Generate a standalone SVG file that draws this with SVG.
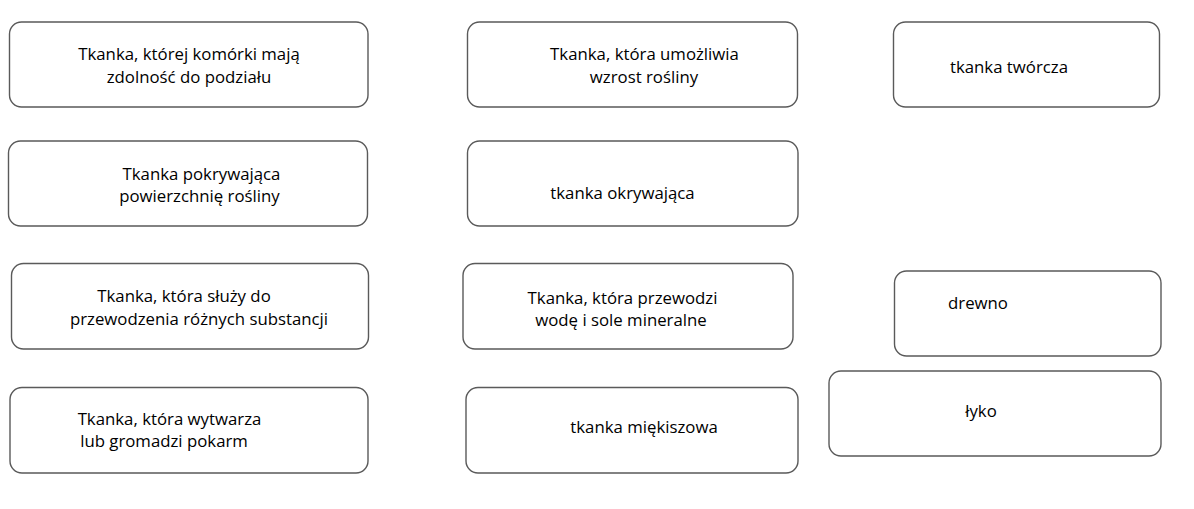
<svg xmlns="http://www.w3.org/2000/svg" width="1194" height="509" viewBox="0 0 1194 509">
  <style>
    .box { fill: #ffffff; stroke: #5a5a5a; stroke-width: 1.4; }
    .lbl { font-family: "Open Sans", "Liberation Sans", sans-serif; font-size: 16.8px; fill: #000000; text-anchor: middle; }
  </style>
  <rect width="1194" height="509" fill="#ffffff"/>

  <!-- column 1: descriptions -->
  <g id="desc-dzielenie">
    <rect class="box" x="9.5" y="22" width="358.5" height="85" rx="12"/>
    <text class="lbl" x="189" y="59.5">Tkanka, której komórki mają</text>
    <text class="lbl" x="189" y="82.5">zdolność do podziału</text>
  </g>
  <g id="desc-pokrywajaca">
    <rect class="box" x="8.5" y="141" width="359" height="85" rx="12"/>
    <text class="lbl" x="201.5" y="180">Tkanka pokrywająca</text>
    <text class="lbl" x="199.5" y="201.5">powierzchnię rośliny</text>
  </g>
  <g id="desc-przewodzenie">
    <rect class="box" x="11.5" y="263.5" width="357" height="85.5" rx="12"/>
    <text class="lbl" x="184" y="302">Tkanka, która służy do</text>
    <text class="lbl" x="199" y="325">przewodzenia różnych substancji</text>
  </g>
  <g id="desc-pokarm">
    <rect class="box" x="10" y="387.5" width="358" height="85.5" rx="12"/>
    <text class="lbl" x="169.5" y="425">Tkanka, która wytwarza</text>
    <text class="lbl" x="164" y="446.5">lub gromadzi pokarm</text>
  </g>

  <!-- column 2 -->
  <g id="desc-wzrost">
    <rect class="box" x="467.5" y="22" width="330" height="85" rx="12"/>
    <text class="lbl" x="644.5" y="59.5">Tkanka, która umożliwia</text>
    <text class="lbl" x="644" y="82.5">wzrost rośliny</text>
  </g>
  <g id="name-okrywajaca">
    <rect class="box" x="467.5" y="141" width="330.5" height="85" rx="12"/>
    <text class="lbl" x="622.5" y="198.5">tkanka okrywająca</text>
  </g>
  <g id="desc-woda">
    <rect class="box" x="463" y="263.5" width="330" height="85.5" rx="12"/>
    <text class="lbl" x="622.5" y="304">Tkanka, która przewodzi</text>
    <text class="lbl" x="621" y="326">wodę i sole mineralne</text>
  </g>
  <g id="name-miekiszowa">
    <rect class="box" x="466" y="387.5" width="332" height="85.5" rx="12"/>
    <text class="lbl" x="644" y="433">tkanka miękiszowa</text>
  </g>

  <!-- column 3 -->
  <g id="name-tworcza">
    <rect class="box" x="893.5" y="22" width="266" height="85" rx="12"/>
    <text class="lbl" x="1009" y="73">tkanka twórcza</text>
  </g>
  <g id="name-drewno">
    <rect class="box" x="894.5" y="271" width="266.5" height="85" rx="12"/>
    <text class="lbl" x="978" y="309">drewno</text>
  </g>
  <g id="name-lyko">
    <rect class="box" x="829" y="371" width="332" height="85" rx="12"/>
    <text class="lbl" x="981" y="416.5">łyko</text>
  </g>

  <g id="connectors"></g>
</svg>
